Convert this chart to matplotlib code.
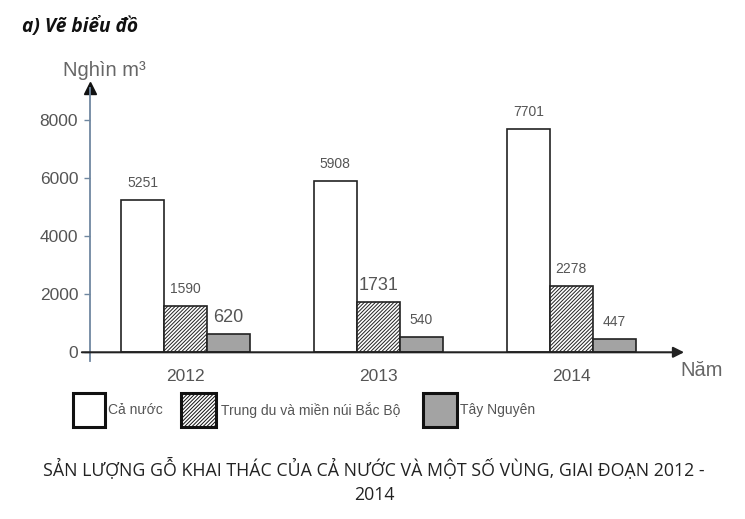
import matplotlib.pyplot as plt
import numpy as np
from matplotlib.patches import Rectangle

years = ["2012", "2013", "2014"]
ca_nuoc = [5251, 5908, 7701]
trung_du = [1590, 1731, 2278]
tay_nguyen = [620, 540, 447]
series_names = ["Cả nước", "Trung du và miền núi Bắc Bộ", "Tây Nguyên"]
yticks = [0, 2000, 4000, 6000, 8000]
big_labels = {620, 1731}  # drawn larger in the original

W, H = 745, 519
GREY = "#555555"
AXIS_BLUE = "#6f87a0"
SANS = ["Liberation Sans", "DejaVu Sans"]
OPEN = ["Open Sans", "DejaVu Sans"]
HATCH = "/////////"

plt.rcParams["hatch.linewidth"] = 0.7
plt.rcParams["font.family"] = SANS


def fx(px):
    return px / W


def fy(py):
    return 1 - py / H


fig = plt.figure(figsize=(W / 100, H / 100), dpi=100)
ax = fig.add_axes([fx(90), fy(361), fx(687) - fx(90), fy(88) - fy(361)])
ax.set_xlim(-0.495, 2.6)
ax.set_ylim(-300, 9100)

x = np.arange(len(years))
w = 0.223
ax.bar(x - w, ca_nuoc, w, color="white", edgecolor="#222222", lw=1.2)
ax.bar(x, trung_du, w, color="white", edgecolor="#222222", lw=1.2, hatch=HATCH)
ax.bar(x + w, tay_nguyen, w, color="#a3a3a3", edgecolor="#222222", lw=1.2)

for off, vals in [(-w, ca_nuoc), (0, trung_du), (w, tay_nguyen)]:
    for xi, v in zip(x, vals):
        big = v in big_labels
        ax.text(xi + off, v + 580, str(v), ha="center", va="center",
                fontsize=13 if big else 10, color=GREY)

# axes styling
for s in ("top", "right", "bottom"):
    ax.spines[s].set_visible(False)
ax.spines["left"].set_color(AXIS_BLUE)
ax.spines["left"].set_linewidth(1.3)
ax.plot(0, 1, "^", color="#111111", ms=9, transform=ax.transAxes, clip_on=False)
ax.annotate("", xy=(2.585, 0), xytext=(-0.537, 0),
            arrowprops=dict(arrowstyle="-|>", color="#222222", lw=1.5,
                            mutation_scale=16, shrinkA=0, shrinkB=0),
            annotation_clip=False)

ax.set_yticks(yticks)
ax.tick_params(axis="y", direction="out", length=4.5, width=1, color=AXIS_BLUE,
               labelsize=12.5, labelcolor=GREY, pad=4)
ax.set_xticks(x, years)
ax.tick_params(axis="x", length=0, labelsize=12.5, labelcolor=GREY, pad=6)

fig.text(fx(63), fy(70), "Nghìn m³", ha="left", va="center", fontsize=14.5, color="#666666")
fig.text(fx(680), fy(370), "Năm", ha="left", va="center", fontsize=14.5, color="#666666")

# legend, drawn by hand like the original
legend_boxes = [(73, 105, "white", None), (181, 216, "white", HATCH), (423, 457, "#a3a3a3", None)]
legend_text_x = [108, 221, 460]
for (x0, x1, fc, hatch), tx, name in zip(legend_boxes, legend_text_x, series_names):
    fig.add_artist(Rectangle((fx(x0), fy(427)), fx(x1) - fx(x0), fy(393) - fy(427),
                             transform=fig.transFigure, facecolor=fc, edgecolor="#111111",
                             lw=2.2, hatch=hatch))
    fig.text(fx(tx), fy(410), name, ha="left", va="center", fontsize=10, color=GREY)

fig.text(fx(22), fy(27), "a) Vẽ biểu đồ", ha="left", va="center", fontsize=13.8,
         family=OPEN, weight="bold", style="italic", color="#111111")
fig.text(fx(374), fy(481),
         "SẢN LƯỢNG GỖ KHAI THÁC CỦA CẢ NƯỚC VÀ MỘT SỐ VÙNG, GIAI ĐOẠN 2012 -\n2014",
         ha="center", va="center", fontsize=12.8, linespacing=1.4,
         family=OPEN, color="#222222")

fig.savefig("out.png", dpi=100)
